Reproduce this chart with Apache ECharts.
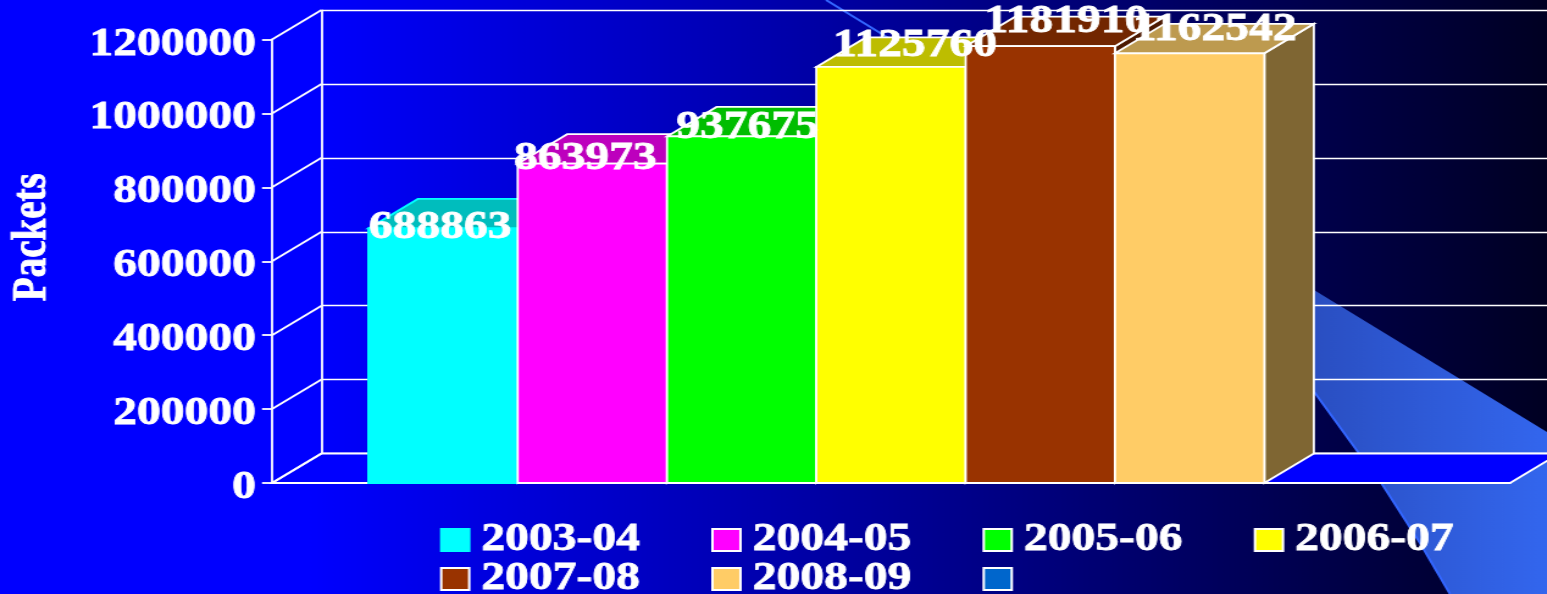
<!DOCTYPE html>
<html>
<head>
<meta charset="utf-8">
<title>Packets</title>
<script src="https://cdn.jsdelivr.net/npm/echarts@6/dist/echarts.min.js"></script>
<style>
html,body{margin:0;padding:0;overflow:hidden;background:#000;}
/* the reference is a slide stretched sideways, so the whole chart is too */
#main{width:1268px;height:594px;transform:scaleX(1.22);transform-origin:0 0;}
</style>
</head>
<body>
<div id="main"></div>
<script>
var years=['2003-04','2004-05','2005-06','2006-07','2007-08','2008-09',' '];
var packets=[688863,863973,937675,1125760,1181910,1162542,null];
var yTicks=[0,200000,400000,600000,800000,1000000,1200000];

var stretch=1.22;
var font='"Liberation Serif"';
var fontSize=39;
var textBorder=0.8;
var depthX=49.5/stretch;
var depthY=-29.5;
var lineW=1.8;
var frontColors=['#00FFFF','#FF00FF','#00FF00','#FFFF00','#993300','#FFCC66','#0066CC'];
var topColors=['#00BDBD','#BD00BD','#00BD00','#BDBD00','#722600','#BD9A4F','#004C99'];
var sideColors=['#007F7F','#7F007F','#007F00','#7F7F00','#4C1900','#7F6633','#003366'];
var lineColors=['#00FFFF','#fff','#fff','#fff','#fff','#fff','#fff'];
// hand placed labels in the reference, offset from the front top edge
var labelShift=[[-3,0],[-7,-5],[6,-9],[24,-21],[26,-24],[25,-23],[0,0]];

function px(x){
    return x/stretch;
}

function renderWalls(params,api){
    var v=api.value(1);
    var p=api.coord([0,v]);
    var rect=params.coordSys;
    var left=rect.x;
    var right=rect.x+rect.width;
    var children=[{
        type:'line',
        shape:{x1:left,y1:p[1],x2:left+depthX,y2:p[1]+depthY},
        style:{stroke:'#fff',lineWidth:lineW,fill:null}
    }];
    if(v===0){
        // floor of the box
        children.unshift({
            type:'polygon',
            shape:{points:[
                [left,p[1]],
                [left+depthX,p[1]+depthY],
                [right+depthX,p[1]+depthY],
                [right,p[1]]
            ]},
            style:{fill:'#0000FF',stroke:'#fff',lineWidth:lineW}
        });
    }
    return {type:'group',children:children};
}

function makeBarRender(i){
    return function(params,api){
        var v=api.value(1);
        if(v===null||isNaN(v)){
            return null;
        }
        var top=api.coord([0,v]);
        var base=api.coord([0,0]);
        var band=api.size([1,0])[0];
        var w=band/8.29;
        var x=top[0]-3.5*w+i*w;
        var stroke=lineColors[i];
        return {
            type:'group',
            children:[{
                type:'polygon',
                shape:{points:[[x+w,base[1]],[x+w+depthX,base[1]+depthY],[x+w+depthX,top[1]+depthY],[x+w,top[1]]]},
                style:{fill:sideColors[i],stroke:stroke,lineWidth:lineW}
            },{
                type:'polygon',
                shape:{points:[[x,top[1]],[x+depthX,top[1]+depthY],[x+w+depthX,top[1]+depthY],[x+w,top[1]]]},
                style:{fill:topColors[i],stroke:stroke,lineWidth:lineW}
            },{
                type:'rect',
                shape:{x:x,y:top[1],width:w,height:base[1]-top[1]},
                style:{fill:frontColors[i],stroke:stroke,lineWidth:lineW}
            },{
                type:'text',
                z2:100,
                style:{
                    text:String(v),
                    x:x+w/2+px(labelShift[i][0]),
                    y:top[1]+labelShift[i][1],
                    fill:'#fff',
                    stroke:'#fff',
                    lineWidth:textBorder,
                    font:'bold '+fontSize+'px '+font,
                    align:'center',
                    verticalAlign:'middle'
                }
            }]
        };
    };
}

var series=[{
    name:'walls',
    type:'custom',
    z:1,
    xAxisIndex:0,
    yAxisIndex:0,
    clip:false,
    silent:true,
    renderItem:renderWalls,
    encode:{x:0,y:1},
    data:yTicks.map(function(t){return [0,t];})
}];
for(var i=0;i<years.length;i++){
    series.push({
        name:years[i],
        type:'custom',
        z:2,
        xAxisIndex:0,
        yAxisIndex:0,
        clip:false,
        renderItem:makeBarRender(i),
        encode:{x:0,y:1},
        itemStyle:{color:frontColors[i],borderColor:lineColors[i],borderWidth:lineW},
        data:[[0,packets[i]]]
    });
}

var legendBase={
    orient:'horizontal',
    left:px(440),
    itemWidth:px(28),
    itemHeight:22,
    itemGap:58,
    selectedMode:false,
    icon:'rect',
    padding:0,
    textStyle:{color:'#fff',fontFamily:font,fontWeight:'bold',fontSize:fontSize,textBorderColor:'#fff',textBorderWidth:textBorder,padding:[0,0,0,5]}
};

var myChart=echarts.init(document.getElementById('main'));
var option={
    animation:false,
    backgroundColor:{
        type:'linear',x:0,y:0,x2:1,y2:0,
        colorStops:[{offset:0,color:'#0000FF'},{offset:0.2,color:'#0000FF'},{offset:1,color:'#000022'}]
    },
    graphic:[{
        // swoosh behind the chart
        type:'polygon',
        z:-1,
        shape:{points:[
            [px(826),0],[px(1000),104],[px(1314),290],[px(1547),432],[px(1547),594],[px(1450),594],
            [px(1420),543],[px(1382),484],[px(1358),452],[px(1315),393],[px(1200),270],[px(1100),190],[px(1000),108],[px(895),42]
        ]},
        style:{
            fill:{type:'linear',x:0,y:0,x2:1,y2:0,colorStops:[{offset:0,color:'#2448B0'},{offset:0.68,color:'#2A4FC2'},{offset:1,color:'#3366EE'}]}
        }
    },{
        // brighter lower edge of the swoosh
        type:'polyline',
        z:-1,
        shape:{points:[
            [px(826),0],[px(895),42],[px(1000),108],[px(1100),190],[px(1200),270],[px(1315),393],
            [px(1358),452],[px(1382),484],[px(1420),543],[px(1450),594]
        ]},
        style:{stroke:'#3366FF',lineWidth:2,fill:null}
    }],
    legend:[
        Object.assign({},legendBase,{top:520,data:years.slice(0,4)}),
        Object.assign({},legendBase,{top:559,data:years.slice(4)})
    ],
    grid:[
        {left:px(272),top:39.5,width:px(1238),height:443.5,outerBoundsMode:'none'},
        {left:px(322),top:10.5,width:px(1300),height:442.5,outerBoundsMode:'none'}
    ],
    xAxis:[{
        type:'category',
        gridIndex:0,
        data:[''],
        axisLine:{lineStyle:{color:'#fff',width:lineW}},
        axisTick:{length:9,lineStyle:{color:'#fff',width:lineW}},
        axisLabel:{show:false}
    },{
        type:'category',
        gridIndex:1,
        data:[''],
        show:false
    }],
    yAxis:[{
        type:'value',
        gridIndex:0,
        min:0,
        max:1200000,
        interval:200000,
        name:'Packets',
        nameLocation:'middle',
        nameGap:177,
        nameRotate:90,
        nameTextStyle:{color:'#fff',fontFamily:font,fontWeight:'bold',fontSize:fontSize,textBorderColor:'#fff',textBorderWidth:textBorder,padding:[0,0,0,48]},
        axisLine:{show:true,lineStyle:{color:'#fff',width:lineW}},
        axisTick:{show:true,length:px(10),lineStyle:{color:'#fff',width:lineW}},
        axisLabel:{
            color:'#fff',fontFamily:font,fontWeight:'bold',fontSize:fontSize,
            textBorderColor:'#fff',textBorderWidth:textBorder,
            margin:px(16),
            verticalAlign:'top',
            lineHeight:10,
            formatter:function(v){return String(v);}
        },
        splitLine:{show:false}
    },{
        type:'value',
        gridIndex:1,
        min:0,
        max:1200000,
        interval:200000,
        axisLine:{show:true,lineStyle:{color:'#fff',width:lineW}},
        axisTick:{show:false},
        axisLabel:{show:false},
        splitLine:{show:true,lineStyle:{color:'#fff',width:1.4,type:'solid'}}
    }],
    series:series
};
myChart.setOption(option);
</script>
</body>
</html>
